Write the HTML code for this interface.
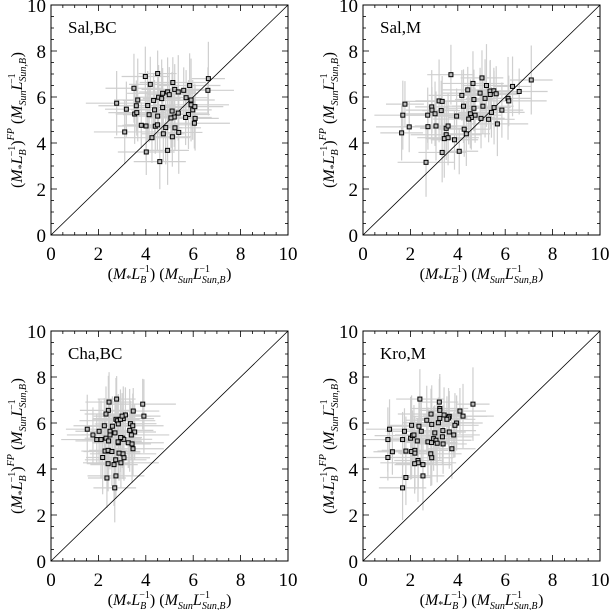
<!DOCTYPE html>
<html><head><meta charset="utf-8"><style>
html,body{margin:0;padding:0;background:#fff;}
svg{display:block;font-family:"Liberation Serif",serif;}
svg text{font-family:"Liberation Serif",serif;}
</style></head><body>
<svg id="chart" width="609" height="610" viewBox="0 0 609 610"></svg>
<script>
const xSalBC=[3.98,4.50,3.50,4.19,5.14,6.64,6.62,2.77,3.18,3.66,3.60,3.53,3.62,4.08,4.14,4.54,4.71,4.67,4.33,4.37,4.71,4.50,4.92,4.99,5.22,5.37,5.60,5.85,5.70,5.91,5.91,5.98,6.07,5.80,5.68,6.08,6.05,5.11,5.37,5.20,5.06,3.81,4.01,4.40,4.49,4.84,5.23,3.11,4.74,5.39,4.26,5.12,4.02,4.92,4.59];
const ySalBC=[6.89,7.02,6.38,6.55,6.63,6.80,6.29,5.73,5.47,5.87,5.62,5.26,5.32,5.63,5.23,5.99,6.16,5.93,5.85,5.44,5.54,5.17,6.22,6.10,6.33,6.22,6.29,6.50,5.97,5.87,5.66,5.44,5.58,5.24,5.11,5.07,4.86,5.39,5.30,5.13,5.09,4.77,4.74,4.73,4.79,4.67,4.66,4.48,4.40,4.46,4.23,4.27,3.61,3.68,3.19];
const xSalM=[3.71,1.77,1.68,1.63,1.95,2.90,2.91,3.04,2.73,3.21,3.34,3.30,2.74,3.08,3.51,3.59,3.51,3.43,3.59,3.86,3.34,4.06,2.66,3.95,4.17,4.24,4.42,4.64,5.02,5.21,4.94,4.68,4.68,4.53,4.73,4.57,4.46,5.15,5.06,4.98,5.36,5.52,5.37,5.62,5.42,5.53,5.30,5.67,5.86,6.12,6.15,6.31,6.59,7.10,4.27,4.36];
const ySalM=[6.97,5.69,5.21,4.44,4.70,5.57,5.43,5.27,5.21,5.83,5.81,5.41,4.71,4.74,4.64,4.74,4.36,4.19,4.23,4.14,3.59,3.64,3.16,5.17,6.07,5.60,6.31,6.59,6.83,6.50,6.17,5.89,5.51,5.27,5.21,5.11,5.04,5.94,5.60,5.07,6.26,6.27,6.11,6.14,5.33,5.54,5.03,4.83,5.43,5.94,5.83,6.46,6.24,6.74,4.60,4.40];
const xChaBC=[2.45,2.77,2.42,2.32,3.87,3.92,3.47,3.05,3.14,2.74,2.80,2.93,3.00,1.53,1.77,2.03,1.93,2.11,2.25,2.59,2.84,2.49,2.49,2.32,2.43,2.70,3.35,3.45,3.53,3.32,3.39,3.01,3.07,2.94,2.84,2.83,3.26,3.42,3.46,2.28,2.43,2.41,2.57,2.87,3.04,2.18,3.08,2.73,2.41,2.66,2.95,2.36,2.74,2.69];
const yChaBC=[6.91,7.04,6.55,6.39,6.82,6.30,6.52,6.19,6.35,6.16,6.10,6.16,6.30,5.73,5.48,5.64,5.28,5.28,5.88,5.86,5.96,5.64,5.48,5.34,5.22,5.57,5.97,5.88,5.61,5.68,5.48,5.34,5.29,5.37,5.14,5.18,5.14,5.09,4.88,4.78,4.78,4.81,4.76,4.69,4.66,4.50,4.49,4.40,4.23,4.19,4.27,3.61,3.70,3.18];
const xKroM=[2.40,3.22,3.24,3.24,2.87,4.64,4.09,4.22,3.42,3.24,3.64,3.61,3.54,2.69,3.95,3.88,3.18,2.90,2.36,2.05,1.12,1.75,2.46,3.03,3.37,3.64,3.83,1.05,1.67,2.01,2.09,2.15,2.29,2.74,2.89,2.98,3.08,3.13,3.35,3.38,3.75,1.24,1.81,2.05,2.19,2.19,1.05,2.86,2.90,2.32,2.33,2.18,2.53,2.53,1.81,1.67];
const yKroM=[7.04,6.91,6.63,6.55,6.39,6.82,6.52,6.30,6.35,6.20,6.29,6.22,6.16,6.12,6.00,5.90,6.01,5.94,5.86,5.90,5.73,5.64,5.64,5.57,5.67,5.61,5.48,5.28,5.28,5.34,5.45,5.48,5.22,5.18,5.15,5.32,5.25,5.12,5.40,5.09,4.88,4.75,4.78,4.76,4.81,4.69,4.50,4.66,4.49,4.37,4.27,4.23,4.19,3.70,3.63,3.18];
const errX=[1.0,0.8,1.2,0.9,1.4,0.7,1.1,1.3,0.9,1.0,1.6,0.8,1.2,0.9,1.1,1.0,1.5,0.8,1.3,1.0];
const errY=[1.3,1.0,1.5,1.2,1.1,1.6,1.0,1.4,1.2,1.8,1.1,1.3,1.0,1.5,1.2,1.4,1.1,1.7,1.2,1.3];
const ticks=[0,2,4,6,8,10];

const NS="http://www.w3.org/2000/svg";
const svg=document.getElementById('chart');
function mk(tag,attrs,parent){const e=document.createElementNS(NS,tag);for(const k in attrs)e.setAttribute(k,attrs[k]);(parent||svg).appendChild(e);return e;}

function panel(name,label,x0,y0,xs,ys){
  const w=237,h=230;
  const g=mk('g',{});
  
  
  const sx=v=>x0+v/10*w, sy=v=>y0+h-v/10*h;
  const clip='clip-'+name;
  const cp=mk('clipPath',{id:clip},g);mk('rect',{x:x0,y:y0,width:w,height:h},cp);
  const eg=mk('g',{'clip-path':'url(#'+clip+')'},g);
  
  
  for(let i=0;i<xs.length;i++){
    const ex=errX[i%errX.length], ey=errY[i%errY.length];
    const lh=mk('line',{x1:sx(xs[i]-ex),x2:sx(xs[i]+ex),y1:sy(ys[i]),y2:sy(ys[i]),stroke:'#cfcfcf','stroke-width':1.2},eg);
    
    const lv=mk('line',{x1:sx(xs[i]),x2:sx(xs[i]),y1:sy(ys[i]-ey),y2:sy(ys[i]+ey),stroke:'#cfcfcf','stroke-width':1.2},eg);
    
  }
  const d=mk('line',{x1:sx(0),y1:sy(0),x2:sx(10),y2:sy(10),stroke:'#000','stroke-width':0.8},g);
  
  
  for(let i=0;i<xs.length;i++){
    const r=mk('rect',{x:sx(xs[i])-2,y:sy(ys[i])-2,width:4,height:4,fill:'#bbb',stroke:'#000','stroke-width':1},g);
    
    
  }
  const fr=mk('rect',{x:x0,y:y0,width:w,height:h,fill:'none',stroke:'#000','stroke-width':1},g);
  
  for(let v=0;v<=10.001;v+=0.5){
    const maj=Math.abs(v-Math.round(v/2)*2)<0.01, L=maj?6:3;
    mk('line',{x1:sx(v),x2:sx(v),y1:y0+h,y2:y0+h-L,stroke:'#000','stroke-width':0.8},g);
    mk('line',{x1:sx(v),x2:sx(v),y1:y0,y2:y0+L,stroke:'#000','stroke-width':0.8},g);
    mk('line',{x1:x0,x2:x0+L,y1:sy(v),y2:sy(v),stroke:'#000','stroke-width':0.8},g);
    mk('line',{x1:x0+w,x2:x0+w-L,y1:sy(v),y2:sy(v),stroke:'#000','stroke-width':0.8},g);
  }
  ticks.forEach(t=>{
    const tx=mk('text',{x:sx(t),y:y0+h+25,'font-size':19,'text-anchor':'middle'},g);tx.textContent=t;
    
    const ty=mk('text',{x:x0-5,y:sy(t)+7,'font-size':19,'text-anchor':'end'},g);ty.textContent=t;
    
  });
  const lb=mk('text',{x:x0+17,y:y0+28,'font-size':17},g);lb.textContent=label;
  
  const xl=mk('text',{x:x0+w/2,y:y0+h+44,'font-size':16,'text-anchor':'middle'},g);
  xl.innerHTML='(<tspan font-style="italic">M</tspan><tspan font-size="10" dy="3">*</tspan><tspan dy="-3" font-style="italic">L</tspan><tspan font-size="10" dy="4" font-style="italic">B</tspan><tspan font-size="10" dx="-7" dy="-11">−1</tspan><tspan dy="7">) (</tspan><tspan font-style="italic">M</tspan><tspan font-size="10" dy="4" font-style="italic">Sun</tspan><tspan dy="-4" font-style="italic">L</tspan><tspan font-size="10" dy="4" font-style="italic">Sun,B</tspan><tspan font-size="10" dx="-26" dy="-11">−1</tspan><tspan dx="16" dy="7">)</tspan>';
  
  const yl=mk('text',{x:0,y:0,'font-size':16,'text-anchor':'middle',transform:'translate('+(x0-29)+','+(y0+h/2)+') rotate(-90)'},g);
  yl.innerHTML='(<tspan font-style="italic">M</tspan><tspan font-size="10" dy="3">*</tspan><tspan dy="-3" font-style="italic">L</tspan><tspan font-size="10" dy="4" font-style="italic">B</tspan><tspan font-size="10" dx="-7" dy="-11">−1</tspan><tspan dy="7">)</tspan><tspan font-size="10" dy="-8" font-style="italic">FP</tspan><tspan dy="8"> (</tspan><tspan font-style="italic">M</tspan><tspan font-size="10" dy="4" font-style="italic">Sun</tspan><tspan dy="-4" font-style="italic">L</tspan><tspan font-size="10" dy="4" font-style="italic">Sun,B</tspan><tspan font-size="10" dx="-26" dy="-11">−1</tspan><tspan dx="16" dy="7">)</tspan>';
  
}
panel('panel-sal-bc','Sal,BC',51,5,xSalBC,ySalBC);
panel('panel-sal-m','Sal,M',363,5,xSalM,ySalM);
panel('panel-cha-bc','Cha,BC',51,331,xChaBC,yChaBC);
panel('panel-kro-m','Kro,M',363,331,xKroM,yKroM);
</script>
</body></html>
